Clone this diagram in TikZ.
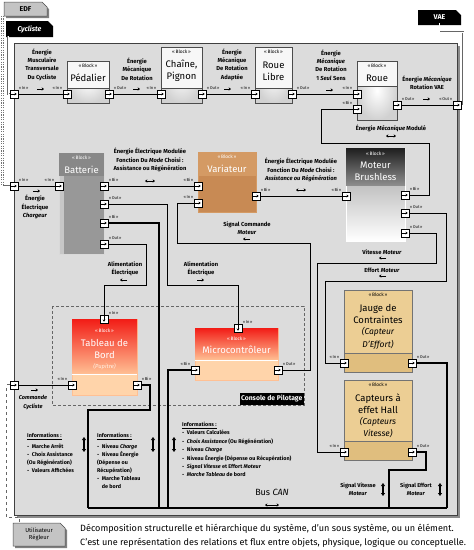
\documentclass[tikz,border=0pt]{standalone}
\usepackage{fontspec}
\setmainfont{Fira Sans}
\usetikzlibrary{arrows.meta}
\definecolor{framebg}{RGB}{220,220,220}
\definecolor{cork}{RGB}{200,138,84}
\definecolor{corkl}{RGB}{212,154,100}
\definecolor{parch}{RGB}{236,206,148}
\definecolor{parchd}{RGB}{224,190,126}
\definecolor{hotred}{RGB}{242,28,22}
\definecolor{peach}{RGB}{255,192,148}
\definecolor{peachl}{RGB}{255,212,170}
\definecolor{batgray}{RGB}{152,152,152}
\definecolor{batdark}{RGB}{136,136,136}
\definecolor{tabgray}{RGB}{196,196,196}
\tikzset{
  portbase/.style={draw=black, fill=white, line width=0.7pt, minimum size=8pt, inner sep=0pt, outer sep=0pt},
  port/.style={portbase, path picture={\draw[line width=0.6pt,-{Stealth[length=2.2pt,width=2.8pt]}] ([xshift=-2.7pt]path picture bounding box.center) -- ([xshift=2.7pt]path picture bounding box.center);}},
  portd/.style={portbase, path picture={\draw[line width=0.6pt,-{Stealth[length=2.2pt,width=2.8pt]}] ([yshift=2.7pt]path picture bounding box.center) -- ([yshift=-2.7pt]path picture bounding box.center);}},
  plab/.style={font=\fontsize{4.1}{4.5}\selectfont, inner sep=0.6pt},
  ll/.style={label={[plab]above left:#1}},
  lr/.style={label={[plab]above right:#1}},
  lab/.style={font=\fontsize{5.8}{8.3}\selectfont\bfseries, align=center, inner sep=0pt},
  btag/.style={font=\fontsize{4.8}{5}\selectfont, inner sep=0pt},
  btitle/.style={font=\fontsize{9.5}{12}\selectfont, align=center, inner sep=0pt},
  info/.style={font=\fontsize{5.4}{8}\selectfont\bfseries, align=left, anchor=north west, inner sep=0pt},
  conn/.style={line width=0.9pt, draw=black},
  busl/.style={line width=1.5pt, draw=black},
  farr/.style={line width=0.8pt, -{Stealth[length=2.4pt,width=3.2pt]}},
  fbi/.style={line width=0.8pt, {Stealth[length=2.4pt,width=3.2pt]}-{Stealth[length=2.4pt,width=3.2pt]}},
  vbi/.style={line width=1.3pt, {Triangle[length=3pt,width=4pt]}-{Triangle[length=3pt,width=4pt]}},
  tabline/.style={draw=black!60, line width=0.5pt, double=white, double distance=0.6pt},
}
\begin{document}
\begin{tikzpicture}[x=1pt,y=-1pt]
\useasboundingbox (0,0) rectangle (474,550);
\fill[white] (0,0) rectangle (474,550);

% ---------- main frame ----------
\fill[black!45] (17,46) rectangle (460,518);
\draw[fill=framebg, draw=black!75, line width=1pt] (14,43) rectangle (457,515);

% ---------- tabs ----------
\fill[black!50] (6,4) -- (44,4) -- (49,9) -- (49,18) -- (6,18) -- cycle;
\draw[fill=tabgray, draw=black!70, line width=0.5pt] (4,2) -- (42,2) -- (47,7) -- (47,16) -- (4,16) -- cycle;
\node[font=\fontsize{7}{8}\selectfont\bfseries] (edf) at (25.5,9) {EDF};
\fill[black] (6,21) -- (48,21) -- (53,26) -- (53,37) -- (6,37) -- cycle;
\node[font=\fontsize{7}{8}\selectfont\bfseries\itshape, text=white] (cyc) at (29.5,29) {Cycliste};
\fill[black] (418,10) -- (456,10) -- (461,15) -- (461,25) -- (418,25) -- cycle;
\node[font=\fontsize{7}{8}\selectfont\bfseries, text=white] (vae) at (439.5,17.5) {VAE};
\fill[black!50] (15,525) -- (62,525) -- (67,530) -- (67,548) -- (15,548) -- cycle;
\draw[fill=tabgray, draw=black!70, line width=0.5pt] (13,523) -- (60,523) -- (65,528) -- (65,546) -- (13,546) -- cycle;
\node[font=\fontsize{5.8}{7.5}\selectfont, align=center] (usr) at (39,534.5) {Utilisateur\\Régleur};

% ---------- console ----------
\draw[black!60, densely dashed, line width=0.6pt] (52,306) rectangle (304,405);
\node[fill=black, text=white, font=\fontsize{6.8}{8}\selectfont\bfseries, anchor=south east, inner sep=1.5pt, minimum height=12pt] (console) at (304,405) {Console de Pilotage};

% ---------- blocks : mechanical row ----------
\node[draw=black!70, line width=0.6pt, inner color=white, outer color=black!18, minimum width=42pt, minimum height=42pt, inner sep=0pt] (ped) at (88,82) {};
\draw[draw=black!70, line width=0.6pt, fill=black!3] (67,61) rectangle (109,88);
\node[btag] (pedTag) at (88,66) {«\,Block\,»};
\node[btitle] (pedName) at (88,78) {Pédalier};

\node[draw=black!70, line width=0.6pt, inner color=white, outer color=black!18, minimum width=41pt, minimum height=56pt, inner sep=0pt] (ch) at (181.5,75) {};
\draw[draw=black!70, line width=0.6pt, fill=black!3] (161,47) rectangle (202,88);
\node[btag] (chTag) at (181.5,52) {«\,Block\,»};
\node[btitle] (chName) at (181.5,71) {Chaîne,\\Pignon};

\node[draw=black!70, line width=0.6pt, inner color=white, outer color=black!18, minimum width=37pt, minimum height=56pt, inner sep=0pt] (rl) at (273.5,75) {};
\draw[draw=black!70, line width=0.6pt, fill=black!3] (255,47) rectangle (292,88);
\node[btag] (rlTag) at (273.5,52) {«\,Block\,»};
\node[btitle] (rlName) at (273.5,71) {Roue\\Libre};

\node[draw=black!70, line width=0.6pt, inner color=white, outer color=black!18, minimum width=40pt, minimum height=59pt, inner sep=0pt] (ro) at (377,90.5) {};
\draw[draw=black!70, line width=0.6pt, fill=black!3] (357,61) rectangle (397,86);
\node[btag] (roTag) at (377,66) {«\,Block\,»};
\node[btitle] (roName) at (377,78) {Roue};

% ---------- Batterie ----------
\node[draw=white!70!gray, line width=0.5pt, fill=batgray, minimum width=45pt, minimum height=101pt, inner sep=0pt] (bat) at (81.5,203.5) {};
\fill[black!22] (59.5,176) rectangle (64,253.5);
\fill[batdark] (59.3,153.3) rectangle (103.7,176);
\node[btag, text=white] (batTag) at (81.5,158) {«\,Block\,»};
\node[btitle, text=white] (batName) at (81.5,170) {Batterie};

% ---------- Variateur ----------
\node[draw=corkl, line width=0.5pt, fill=cork, minimum width=58pt, minimum height=60pt, inner sep=0pt] (var) at (227,182) {};
\fill[corkl] (198.3,152.3) rectangle (255.7,176);
\node[btag, text=white] (varTag) at (227,157) {«\,Block\,»};
\node[btitle, text=white] (varName) at (227,169) {Variateur};

% ---------- Moteur ----------
\node[draw=white, line width=0.5pt, top color=black!40, bottom color=white, minimum width=59pt, minimum height=93pt, inner sep=0pt] (mot) at (375.5,194.5) {};
\fill[top color=black!88, bottom color=black!45] (346,148) rectangle (405,185);
\node[btag, text=white] (motTag) at (375.5,154) {«\,Block\,»};
\node[btitle, text=white] (motName) at (375.5,171.5) {Moteur\\Brushless};

% ---------- Tableau de bord ----------
\node[draw=peach, line width=0.5pt, fill=peachl, minimum width=65pt, minimum height=76pt, inner sep=0pt] (tab) at (104.5,357) {};
\fill[top color=hotred, bottom color=peach] (72,319) rectangle (137,374);
\draw[white, line width=0.4pt] (72,374) -- (137,374);
\node[btag, text=white] (tabTag) at (104.5,331) {«\,Block\,»};
\node[btitle, text=white] (tabName) at (104.5,348.5) {Tableau de\\Bord};
\node[font=\fontsize{5.8}{6}\selectfont\itshape, text=white!90!orange, inner sep=0pt] (tabSub) at (104.5,367) {(Pupitre)};

% ---------- Microcontroleur ----------
\node[draw=peach, line width=0.5pt, fill=peachl, minimum width=83pt, minimum height=52pt, inner sep=0pt] (mic) at (236.5,354) {};
\fill[top color=hotred, bottom color=peach] (195,328) rectangle (278,360);
\draw[white, line width=0.4pt] (195,360) -- (278,360);
\node[btag, text=white] (micTag) at (236.5,339) {«\,Block\,»};
\node[btitle, text=white] (micName) at (236.5,350) {Microcontrôleur};

% ---------- Jauge ----------
\node[draw=black!55, line width=0.5pt, fill=parchd, minimum width=68pt, minimum height=82pt, inner sep=0pt] (jau) at (378,331) {};
\draw[draw=black!55, line width=0.5pt, fill=parch] (344,290) rectangle (412,353);
\node[btag] (jauTag) at (378,295) {«\,Block\,»};
\node[btitle] (jauName) at (378,313.5) {Jauge de\\Contraintes};
\node[btitle, font=\fontsize{8.5}{12.5}\selectfont\itshape] (jauSub) at (378,338.5) {(Capteur\\D'Effort)};

% ---------- Capteurs Hall ----------
\node[draw=black!55, line width=0.5pt, fill=parchd, minimum width=68pt, minimum height=80pt, inner sep=0pt] (hal) at (378,420) {};
\draw[draw=black!55, line width=0.5pt, fill=parch] (344,380) rectangle (412,441);
\node[btag] (halTag) at (378,385) {«\,Block\,»};
\node[btitle] (halName) at (378,403.5) {Capteurs à\\effet Hall};
\node[btitle, font=\fontsize{8.5}{12}\selectfont\itshape] (halSub) at (378,428) {(Capteurs\\Vitesse)};

% ---------- ports ----------
\node[port, lr=«\,In\,»] (fin1) at (14,94) {};
\node[port, ll=«\,In\,»] (pedIn) at (67,94) {};
\node[port, lr=«\,Out\,»] (pedOut) at (109,94) {};
\node[port, ll=«\,In\,»] (chIn) at (161,94) {};
\node[port, lr=«\,Out\,»] (chOut) at (202,94) {};
\node[port, ll=«\,In\,»] (rlIn) at (255,94) {};
\node[port, lr=«\,Out\,»] (rlOut) at (292,94) {};
\node[port, ll=«\,In\,»] (roIn) at (357,94) {};
\node[port, ll=«\,Bi\,»] (roBi) at (357,109) {};
\node[port, lr=«\,Out\,»] (roOut) at (397,105) {};
\node[port, ll=«\,Out\,»] (fout) at (457,105) {};
\node[port, lr=«\,In\,»] (fin2) at (14,186) {};
\node[port, ll=«\,In\,»] (batIn) at (59,186) {};
\node[port, lr=«\,Bi\,»] (batBi1) at (104,186) {};
\node[port, lr=«\,Out\,»] (batOut1) at (104,204) {};
\node[port, lr=«\,Bi\,»] (batBi2) at (104,223) {};
\node[port, lr=«\,Out\,»] (batOut2) at (104,244) {};
\node[port, ll=«\,Bi\,»] (varBiL) at (198,186) {};
\node[port, ll=«\,In\,»] (varIn) at (198,203) {};
\node[port, lr=«\,Bi\,»] (varBiR) at (256,196) {};
\node[port, ll=«\,Bi\,»] (motBiL) at (346,196) {};
\node[port, lr=«\,Bi\,»] (motBiR) at (405,195) {};
\node[port, lr=«\,Out\,»] (motOut1) at (405,213) {};
\node[port, lr=«\,Out\,»] (motOut2) at (405,233) {};
\node[portd, lr=«\,In\,»] (tabInT) at (104,319) {};
\node[port, ll=«\,In\,»] (tabIn) at (72,385) {};
\node[port, lr=«\,Bi\,»] (tabBi) at (137,385) {};
\node[portd, lr=«\,In\,»] (micIn) at (238,328) {};
\node[port, ll=«\,Bi\,»] (micBi) at (195,370) {};
\node[port, lr=«\,Out\,»] (micOut) at (278,370) {};
\node[port, ll=«\,In\,»] (jauIn) at (344,363) {};
\node[port, lr=«\,Out\,»] (jauOut) at (412,363) {};
\node[port, ll=«\,In\,»] (halIn) at (344,452) {};
\node[port, lr=«\,Out\,»] (halOut) at (412,452) {};
\node[port] (fin3) at (14,385) {};

% ---------- tab connectors ----------
\draw[black!55, line width=3pt, dash pattern=on 1.2pt off 1.2pt] (2.5,16) -- (2.5,186);
\draw[tabline] (edf.south -| 2.5,0) -- (2.5,186) -- (fin2.west);
\draw[tabline] (cyc.south -| 8,0) -- (8,94) -- (fin1.west);
\draw[tabline] (vae.south) -- (439.5,32) -- (463,32) -- (463,105) -- (fout.east);
\draw[tabline, dashed] (fin3.west) -- (7,385) -- (7,518) -- (20,518) -- (usr.north -| 20,0);

% ---------- connectors ----------
\coordinate (busL) at (88,508);
\coordinate (busR) at (447,508);
\draw[conn] (fin1) -- (pedIn);
\draw[conn] (pedOut) -- (chIn);
\draw[conn] (chOut) -- (rlIn);
\draw[conn] (rlOut) -- (roIn);
\draw[conn] (roOut) -- (fout);
\draw[conn] (roBi.west) -- (321,109) -- (321,143) -- (429,143) -- (429,195) -- (motBiR.east);
\draw[conn] (fin2) -- (batIn);
\draw[conn] (batBi1) -- (varBiL);
\draw[conn] (varBiR) -- (motBiL);
\draw[conn] (batOut1.east) -- (167,204) -- (167,285) -- (238,285) -- (micIn.north);
\draw[busl] (batBi2.east) -- (159,223) -- (159,508);
\draw[conn] (batOut2.east) -- (146,244) -- (146,285) -- (104,285) -- (tabInT.north);
\draw[conn] (micOut.east) -- (310,370) -- (310,243) -- (177,243) -- (177,203) -- (varIn.west);
\draw[conn] (motOut1.east) -- (446,213) -- (446,281) -- (325,281) -- (325,363) -- (jauIn.west);
\draw[conn] (motOut2.east) -- (436,233) -- (436,263) -- (317,263) -- (317,452) -- (halIn.west);
\draw[conn] (fin3) -- (tabIn);
\draw[busl] (tabBi.east) -- (150,385) -- (150,410) -- (88,410) -- (busL);
\draw[busl] (micBi.west) -- (168,370) -- (168,508);
\draw[busl] (jauOut.east) -- (447,363) -- (busR);
\draw[busl] (halOut.east) -- (426,452) -- (426,470) -- (389,470) -- (389,508);
\draw[busl] (busL) -- (busR);

% redraw ports above lines
\foreach \p in {fin1,pedIn,pedOut,chIn,chOut,rlIn,rlOut,roIn,roBi,roOut,fout,fin2,batIn,batBi1,batOut1,batBi2,batOut2,varBiL,varIn,varBiR,motBiL,motBiR,motOut1,motOut2,tabIn,tabBi,micBi,micOut,jauIn,jauOut,halIn,halOut,fin3}{
  \node[port] at (\p.center) {};
}
\node[portd] at (tabInT.center) {};
\node[portd] at (micIn.center) {};

% ---------- flow labels ----------
\node[lab] (t1) at (42,64.5) {Énergie\\Musculaire\\Transversale\\Du Cycliste};
\draw[farr] (37,89) -- (44,89);
\node[lab] (t2) at (137,69) {Énergie\\Mécanique\\De Rotation};
\draw[farr] (133,89) -- (140,89);
\node[lab] (t3) at (232,64.7) {Énergie\\Mécanique\\De Rotation\\Adaptée};
\draw[farr] (224,89) -- (231,89);
\node[lab] (t4) at (331,65) {Énergie\\\textit{Mécanique}\\De Rotation\\1 \textit{Seul} Sens};
\draw[farr] (326,90) -- (333,90);
\node[lab] (t5) at (427,83) {Énergie \textit{Mécanique}\\Rotation VAE};
\draw[farr] (423,99) -- (430,99);
\node[lab] (t6) at (391,128) {Énergie \textit{Mécanique} Modulé};
\draw[fbi] (386,136) -- (396,136);
\node[lab] (t7) at (150,160) {Énergie Électrique Modulée\\Fonction Du \textit{Mode} Choisi :\\Assistance ou Régénération};
\draw[fbi] (145,181) -- (155,181);
\node[lab] (t8) at (301,170) {Énergie Électrique Modulée\\Fonction Du \textit{Mode} Choisi :\\\textit{Assistance ou Régénération}};
\draw[fbi] (296,190) -- (306,190);
\draw[farr] (33,191) -- (40,191);
\node[lab] (t9) at (35,207) {Énergie\\Électrique\\\textit{Chargeur}};
\node[lab] (t10) at (247,228) {Signal Commande\\\textit{Moteur}};
\draw[farr] (250,239) -- (243,239);
\node[lab] (t11) at (125,269) {Alimentation\\Électrique};
\draw[farr] (127,280) -- (120,280);
\node[lab] (t12) at (201,269) {Alimentation\\Électrique};
\draw[farr] (197,280) -- (204,280);
\node[lab] (t13) at (382,252) {Vitesse \textit{Moteur}};
\draw[farr] (386,258) -- (379,258);
\node[lab] (t14) at (382,270) {Effort \textit{Moteur}};
\draw[farr] (386,276) -- (379,276);
\draw[farr] (31,390) -- (38,390);
\node[lab, font=\fontsize{5.6}{8.5}\selectfont\bfseries\itshape] (t15) at (33,402.5) {Commande\\Cycliste};

% ---------- informations ----------
\node[info] (inf1) at (27,433) {\underline{Informations :}\\[3pt]-\ \ Marche Arrêt\\-\ \ Choix Assistance\\(Ou Régénération)\\-\ \ Valeurs Affichées};
\draw[vbi] (84,437) -- (84,452);
\node[info] (inf2) at (97,433) {\underline{Informations :}\\[3pt]-\ \ Niveau \textit{Charge}\\-\ \ Niveau Énergie\\(Dépense ou\\Récupération)\\-\ \ Marche Tableau\\\phantom{-\ \ }de bord};
\draw[vbi] (153,437) -- (153,452);
\draw[vbi] (174,437) -- (174,452);
\node[info, font=\fontsize{5.4}{8.4}\selectfont\bfseries] (inf3) at (182,422) {\underline{Informations :}\\-\ \ Valeurs Calculées\\-\ \ \textit{Choix Assistance} (Ou Régénération)\\-\ \ Niveau \textit{Charge}\\-\ \ Niveau Énergie (Dépense ou Récupération)\\-\ \ \textit{Signal Vitesse} et Effort \textit{Moteur}\\-\ \ \textit{Marche Tableau} de bord};
\node[font=\fontsize{9}{10}\selectfont, inner sep=0pt] (bus) at (272,492) {Bus \textit{CAN}};
\draw[fbi, line width=1pt] (265,505) -- (279,505);
\node[lab, font=\fontsize{5.6}{8.5}\selectfont\bfseries] (sv) at (358,489.5) {Signal Vitesse\\\textit{Moteur}};
\draw[vbi] (383,483) -- (383,496);
\node[lab, font=\fontsize{5.6}{8.5}\selectfont\bfseries] (se) at (416,489.5) {Signal Effort\\\textit{Moteur}};
\draw[vbi] (440,483) -- (440,496);

% ---------- caption ----------
\node[anchor=west, font=\fontsize{9.1}{10}\selectfont, inner sep=0pt] (cap1) at (80,529) {Décomposition structurelle et hiérarchique du système, d'un sous système, ou un élément.};
\node[anchor=west, font=\fontsize{9.1}{10}\selectfont, inner sep=0pt] (cap2) at (80,543) {C'est une représentation des relations et flux entre objets, physique, logique ou conceptuelle.};
\end{tikzpicture}
\end{document}
